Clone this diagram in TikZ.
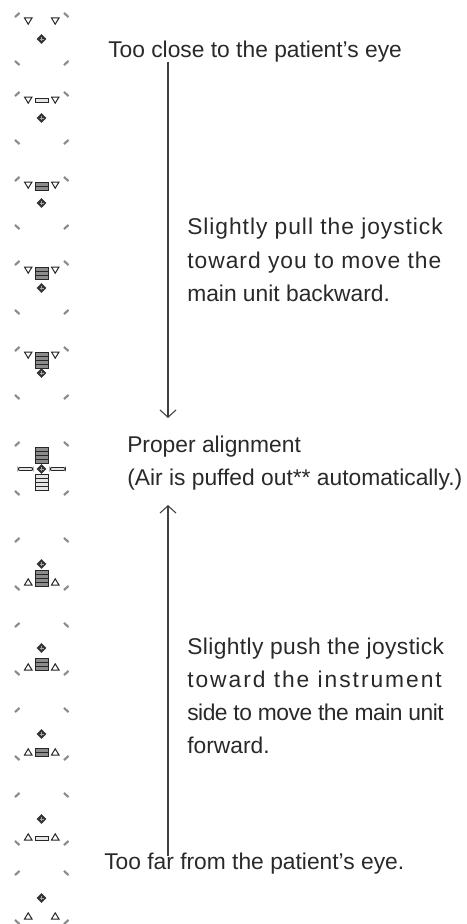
\documentclass[tikz,border=0pt]{standalone}
\usepackage{fontspec}
\setmainfont{Liberation Sans}
\usetikzlibrary{arrows.meta}
\definecolor{ink}{gray}{0.16}
\tikzset{
  tick/.style={draw=black!45,line width=1.6pt,line cap=butt},
  tri/.style={draw=black!85,line width=0.75pt,fill=white,line join=miter},
  barbox/.style={draw=black!85,line width=0.7pt,fill=black!45},
  barboxw/.style={draw=black!85,line width=0.7pt,fill=black!10},
  lab/.style={anchor=base west,inner sep=0pt,text=ink,font=\fontsize{17.1}{20}\selectfont},
  arrowline/.style={draw=black!75,line width=0.95pt,-{Straight Barb[length=5.5pt,width=12pt,line width=0.8pt]}}
}
\newcommand{\ls}[2]{{\addfontfeature{LetterSpace=#1}#2}}
\newcommand{\ticks}[2]{%
  \draw[tick] (15,#1+2.2) -- (19.5,#1-2.2);
  \draw[tick] (64,#1-2.2) -- (68.5,#1+2.2);
  \draw[tick] (15,#2-2.2) -- (19.5,#2+2.2);
  \draw[tick] (64,#2+2.2) -- (68.5,#2-2.2);}
\newcommand{\dn}[1]{%
  \draw[tri] (24.5,#1-3) -- (32,#1-3) -- (28.2,#1+3.2) -- cycle;
  \draw[tri] (51.5,#1-3) -- (59,#1-3) -- (55.2,#1+3.2) -- cycle;}
\newcommand{\up}[1]{%
  \draw[tri] (24.5,#1+3) -- (32,#1+3) -- (28.2,#1-3.2) -- cycle;
  \draw[tri] (51.5,#1+3) -- (59,#1+3) -- (55.2,#1-3.2) -- cycle;}
\newcommand{\dia}[1]{%
  \fill[black!80] (41.5,#1-4.8) -- (46.3,#1) -- (41.5,#1+4.8) -- (36.7,#1) -- cycle;
  \draw[black!35,line width=0.35pt] (39.5,#1) -- (43.5,#1) (41.5,#1-2) -- (41.5,#1+2);}
\newcommand{\bars}[3]{% top, count, style
  \foreach \i in {1,...,#2}{
    \draw[#3] (35,{#1+(\i-1)*4}) rectangle (48.5,{#1+\i*4});}}
\begin{document}
\begin{tikzpicture}[x=0.75pt,y=-0.75pt]
\useasboundingbox (0,0) rectangle (467,924);
\ticks{15}{63}\dn{21}\dia{39}
\ticks{94}{142}\dn{100}\bars{98}{1}{barboxw}\dia{118}
\ticks{179}{227}\dn{185}\bars{182.5}{2}{barbox}\dia{203}
\ticks{263}{312}\dn{270}\bars{267}{3}{barbox}\dia{288}
\ticks{349}{397}\dn{355}\bars{352}{4}{barbox}\dia{373}
\ticks{444}{493}\bars{447}{4}{barbox}\bars{474}{4}{barboxw}\dia{469}
\draw[barboxw,rounded corners=1.5pt] (18,467.5) rectangle (33,470.5);
\draw[barboxw,rounded corners=1.5pt] (50,467.5) rectangle (65.5,470.5);
\ticks{540}{588}\bars{570}{4}{barbox}\up{582}\dia{564}
\ticks{625}{673}\bars{658.5}{3}{barbox}\up{667}\dia{648}
\ticks{710}{758}\bars{748}{2}{barbox}\up{752}\dia{734}
\ticks{795}{843}\bars{836.5}{1}{barboxw}\up{837}\dia{819}
\ticks{873}{922}\up{916}\dia{898}

\node[lab] (t1) at (108,58) {Too close to the patient’s eye};
\node[lab] (t2) at (127,452) {Proper alignment};
\node[lab] (t3) at (127,485) {(Air is puffed out** automatically.)};
\node[lab] (t4) at (104,869) {Too far from the patient’s eye.};
\node[lab] (p11) at (187,234) {\ls{4.2}{Slightly pull the joystick}};
\node[lab] (p12) at (187,268) {\ls{4.4}{toward you to move the}};
\node[lab] (p13) at (187,301) {main unit backward.};
\node[lab] (p21) at (187,654) {\ls{1.7}{Slightly push the joystick}};
\node[lab] (p22) at (187,687) {\ls{8.6}{toward the instrument}};
\node[lab] (p23) at (187,720) {\ls{-2.1}{side to move the main unit}};
\node[lab] (p24) at (187,753) {forward.};
\coordinate (a1s) at (168,62);
\coordinate (a1e) at (168,418);
\coordinate (a2s) at (168,856);
\coordinate (a2e) at (168,505);
\draw[arrowline] (a1s) -- (a1e);
\draw[arrowline] (a2s) -- (a2e);
\end{tikzpicture}
\end{document}
